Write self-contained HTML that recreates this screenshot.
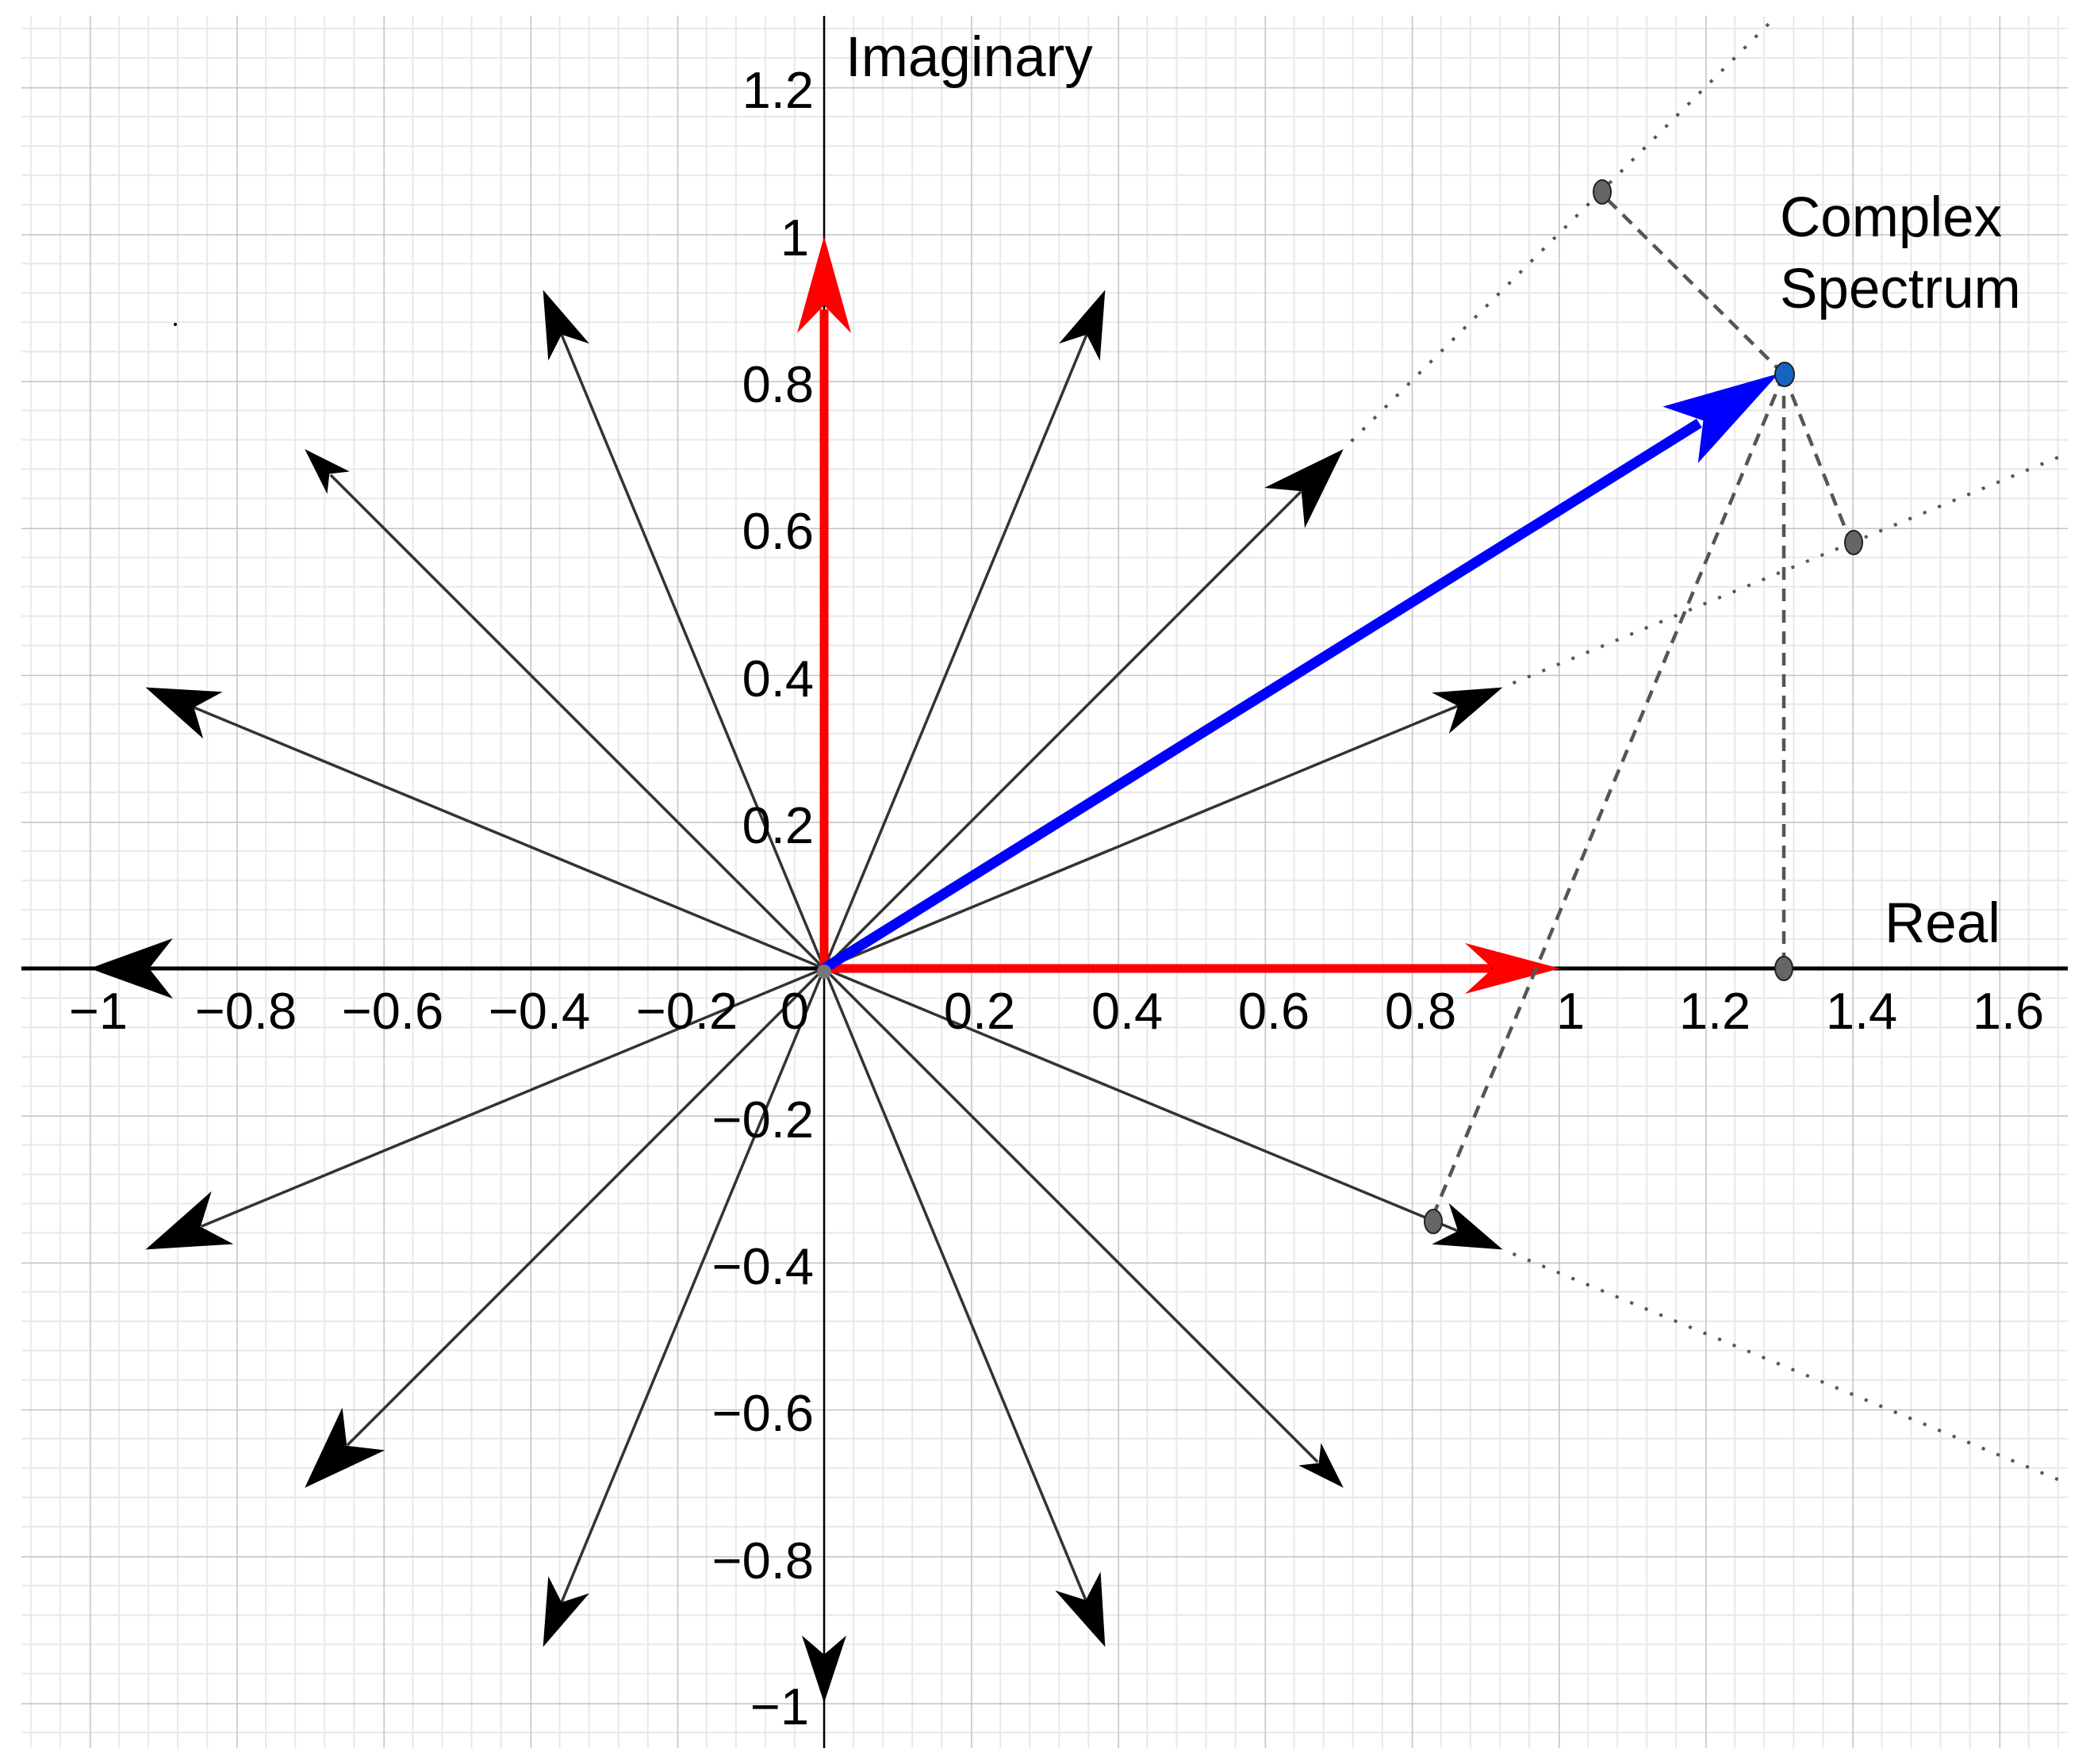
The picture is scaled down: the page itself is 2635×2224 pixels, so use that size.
<!DOCTYPE html>
<html><head><meta charset="utf-8"><style>
html,body{margin:0;padding:0;background:#fff;}
svg{display:block;}
text{font-family:"Liberation Sans",sans-serif;fill:#000;}
</style></head><body>
<svg width="2635" height="2224" viewBox="0 0 2635 2224" xmlns="http://www.w3.org/2000/svg">
<defs>
<pattern id="g" patternUnits="userSpaceOnUse" x="113" y="110" width="185.2" height="185.2">
<g stroke="#e8e8e8" stroke-width="2">
<line x1="37.04" y1="0" x2="37.04" y2="185.2"/><line x1="74.08" y1="0" x2="74.08" y2="185.2"/><line x1="111.12" y1="0" x2="111.12" y2="185.2"/><line x1="148.16" y1="0" x2="148.16" y2="185.2"/>
<line y1="37.04" x1="0" y2="37.04" x2="185.2"/><line y1="74.08" x1="0" y2="74.08" x2="185.2"/><line y1="111.12" x1="0" y2="111.12" x2="185.2"/><line y1="148.16" x1="0" y2="148.16" x2="185.2"/>
</g>
<g stroke="#c2c2c2" stroke-width="3"><line x1="0" y1="0" x2="0" y2="185.2"/><line x1="0" y1="0" x2="185.2" y2="0"/></g>
</pattern>
</defs>
<rect x="27" y="20" width="2580" height="2184" fill="url(#g)"/>

<g stroke="#555" stroke-width="4" stroke-dasharray="4 16" fill="none">
<g transform="translate(1039,1221) rotate(-45)"><line x1="940" y1="0" x2="1690" y2="0"/></g>
<g transform="translate(1039,1221) rotate(-22.5)"><line x1="940" y1="0" x2="1700" y2="0"/></g>
<g transform="translate(1039,1221) rotate(22.5)"><line x1="940" y1="0" x2="1700" y2="0"/></g>
</g>

<line x1="1039" y1="20" x2="1039" y2="2204" stroke="#000" stroke-width="2.5"/>
<line x1="27" y1="1221" x2="2607" y2="1221" stroke="#000" stroke-width="5"/>

<g fill="#000" stroke="#333" stroke-width="3.5">
<g transform="translate(1039,1221) rotate(-22.5)"><line x1="0" y1="0" x2="865" y2="0"/><polygon stroke="none" points="926,0 841,28 865,0 841,-28"/></g>
<g transform="translate(1039,1221) rotate(-45)"><line x1="0" y1="0" x2="850" y2="0"/><polygon stroke="none" points="926,0 821,36 851,0 821,-36"/></g>
<g transform="translate(1039,1221) rotate(-67.5)"><line x1="0" y1="0" x2="865" y2="0"/><polygon stroke="none" points="926,0 841,28 865,0 841,-28"/></g>
<g transform="translate(1039,1221) rotate(-112.5)"><line x1="0" y1="0" x2="865" y2="0"/><polygon stroke="none" points="926,0 841,28 865,0 841,-28"/></g>
<g transform="translate(1039,1221) rotate(-135)"><line x1="0" y1="0" x2="880" y2="0"/><polygon stroke="none" points="926,0 866,20 882,0 866,-20"/></g>
<g transform="translate(1039,1221) rotate(-157.5)"><line x1="0" y1="0" x2="860" y2="0"/><polygon stroke="none" points="926,0 834,32 860,0 834,-32"/></g>
<g transform="translate(1039,1221) rotate(180)"><polygon stroke="none" points="926,0 821,38 851,0 821,-38"/></g>
<g transform="translate(1039,1221) rotate(157.5)"><line x1="0" y1="0" x2="850" y2="0"/><polygon stroke="none" points="926,0 821,36 851,0 821,-36"/></g>
<g transform="translate(1039,1221) rotate(135)"><line x1="0" y1="0" x2="850" y2="0"/><polygon stroke="none" points="926,0 821,38 851,0 821,-38"/></g>
<g transform="translate(1039,1221) rotate(112.5)"><line x1="0" y1="0" x2="865" y2="0"/><polygon stroke="none" points="926,0 841,28 865,0 841,-28"/></g>
<g transform="translate(1039,1221) rotate(90)"><polygon stroke="none" points="926,0 841,28 865,0 841,-28"/></g>
<g transform="translate(1039,1221) rotate(67.5)"><line x1="0" y1="0" x2="865" y2="0"/><polygon stroke="none" points="926,0 836,31 862,0 836,-31"/></g>
<g transform="translate(1039,1221) rotate(45)"><line x1="0" y1="0" x2="880" y2="0"/><polygon stroke="none" points="926,0 866,20 882,0 866,-20"/></g>
<g transform="translate(1039,1221) rotate(22.5)"><line x1="0" y1="0" x2="865" y2="0"/><polygon stroke="none" points="926,0 841,28 865,0 841,-28"/></g>
</g>

<g fill="#ff0000" stroke="#ff0000" stroke-width="11">
<line x1="1039" y1="1221" x2="1039" y2="390"/>
<polygon stroke="none" points="1039,298 1073,420 1039,385 1005,420"/>
<line x1="1039" y1="1221" x2="1880" y2="1221"/>
<polygon stroke="none" points="1967,1221 1847,1253 1882,1221 1847,1189"/>
</g>

<g transform="translate(1039,1221) rotate(-31.93)">
<line x1="0" y1="0" x2="1300" y2="0" stroke="#0000ff" stroke-width="13"/>
<polygon fill="#0000ff" points="1418,0 1272,42 1306,0 1272,-42"/>
</g>

<g stroke="#555" stroke-width="4.5" stroke-dasharray="16 11" fill="none">
<line x1="2249" y1="472" x2="2018" y2="243"/>
<line x1="2249" y1="472" x2="2334" y2="685"/>
<line x1="2249" y1="472" x2="2249" y2="1221"/>
<line x1="2249" y1="472" x2="1805" y2="1537"/>
</g>

<g stroke="#222" stroke-width="2" fill="#666">
<ellipse cx="2020" cy="242" rx="11" ry="15"/>
<ellipse cx="2337" cy="684" rx="11" ry="15"/>
<ellipse cx="2249" cy="1221" rx="11" ry="15"/>
<ellipse cx="1807" cy="1540" rx="11" ry="15"/>
<ellipse cx="2250" cy="472" rx="12" ry="15" fill="#1565c0"/>
<circle cx="1039" cy="1225" r="9" fill="#777" stroke="none"/>
</g>
<circle cx="221" cy="409" r="2" fill="#000"/>

<g font-size="65" text-anchor="middle">
<text x="124" y="1297">−1</text>
<text x="310" y="1297">−0.8</text>
<text x="495" y="1297">−0.6</text>
<text x="680" y="1297">−0.4</text>
<text x="866" y="1297">−0.2</text>
<text x="1002" y="1297">0</text>
<text x="1235" y="1297">0.2</text>
<text x="1421" y="1297">0.4</text>
<text x="1606" y="1297">0.6</text>
<text x="1791" y="1297">0.8</text>
<text x="1980" y="1297">1</text>
<text x="2162" y="1297">1.2</text>
<text x="2347" y="1297">1.4</text>
<text x="2532" y="1297">1.6</text>
</g>
<g font-size="65" text-anchor="end">
<text x="1026" y="136">1.2</text>
<text x="1020" y="322">1</text>
<text x="1026" y="507">0.8</text>
<text x="1026" y="692">0.6</text>
<text x="1026" y="878">0.4</text>
<text x="1026" y="1063">0.2</text>
<text x="1026" y="1434">−0.2</text>
<text x="1026" y="1619">−0.4</text>
<text x="1026" y="1804">−0.6</text>
<text x="1026" y="1990">−0.8</text>
<text x="1020" y="2174">−1</text>
</g>

<text x="1066" y="96" font-size="71">Imaginary</text>
<text x="2244" y="298" font-size="71">Complex</text>
<text x="2244" y="388" font-size="71">Spectrum</text>
<text x="2376" y="1188" font-size="71">Real</text>
</svg>
</body></html>
